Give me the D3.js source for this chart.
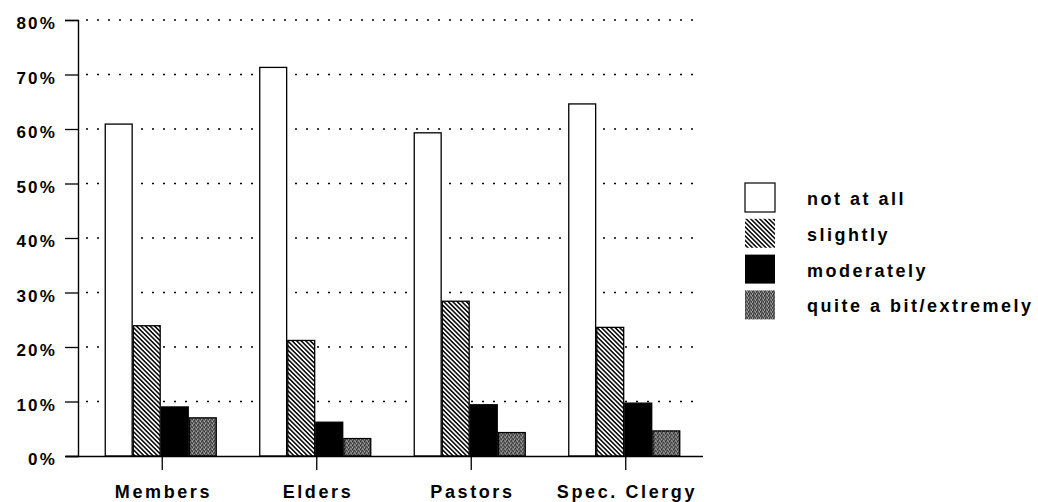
<!DOCTYPE html>
<html>
<head>
<meta charset="utf-8">
<script src="https://cdn.jsdelivr.net/npm/d3@7"></script>
<style>
  body { margin: 0; background: #fff; }
  text { font-family: "Liberation Sans", Arial, sans-serif; font-weight: bold; fill: #000; }
</style>
</head>
<body>
<div id="chart"></div>
<script>
// data
var groups = ["Members", "Elders", "Pastors", "Spec. Clergy"];
var series = ["not at all", "slightly", "moderately", "quite a bit/extremely"];
var notAtAll = [60.9, 71.3, 59.3, 64.6];
var slightly = [23.9, 21.2, 28.4, 23.6];
var moderately = [9.0, 6.2, 9.4, 9.7];
var quiteABit = [7.0, 3.2, 4.3, 4.6];
var yTicks = [0, 10, 20, 30, 40, 50, 60, 70, 80];

var values = [notAtAll, slightly, moderately, quiteABit];

var width = 1038,
    height = 502;

var svg = d3.select("#chart")
    .append("svg")
    .attr("width", width)
    .attr("height", height);

var defs = svg.append("defs");

// diagonal hatch for "slightly"
var hatch = defs.append("pattern")
    .attr("id", "hatch")
    .attr("patternUnits", "userSpaceOnUse")
    .attr("width", 3.2)
    .attr("height", 10)
    .attr("patternTransform", "rotate(-45)");
hatch.append("rect").attr("width", 3.2).attr("height", 10).attr("fill", "#fff");
hatch.append("line")
    .attr("x1", 0.8).attr("y1", 0).attr("x2", 0.8).attr("y2", 10)
    .attr("stroke", "#000").attr("stroke-width", 1.5);

// stipple for "quite a bit/extremely"
var dots = defs.append("pattern")
    .attr("id", "stipple")
    .attr("patternUnits", "userSpaceOnUse")
    .attr("width", 4)
    .attr("height", 4);
dots.append("rect").attr("width", 4).attr("height", 4).attr("fill", "#6e6e6e");
[[0, 0, "#222"], [2, 1, "#bbb"], [1, 2, "#333"], [3, 3, "#ccc"], [3, 1, "#111"], [1, 0, "#999"], [0, 3, "#444"], [2, 3, "#222"]]
    .forEach(function (p) {
        dots.append("rect").attr("x", p[0]).attr("y", p[1])
            .attr("width", 1).attr("height", 1).attr("fill", p[2]);
    });

var fills = ["#fff", "url(#hatch)", "#000", "url(#stipple)"];

var y = d3.scaleLinear()
    .domain([0, 80])
    .range([456, 20]);

var x0 = d3.scaleBand()
    .domain(groups)
    .range([85, 703]);

var x1 = d3.scaleBand()
    .domain(series)
    .range([-57, 54])
    .paddingInner(0.04);

// dotted grid
svg.append("g")
    .selectAll("line")
    .data(yTicks.filter(function (d) { return d > 0; }))
    .enter()
    .append("line")
    .attr("x1", 86)
    .attr("x2", 702)
    .attr("y1", function (d) { return y(d); })
    .attr("y2", function (d) { return y(d); })
    .attr("stroke", "#000")
    .attr("stroke-width", 1.3)
    .attr("stroke-dasharray", "2,9");

// bars
var group = svg.append("g")
    .selectAll("g")
    .data(groups)
    .enter()
    .append("g")
    .attr("transform", function (d) {
        return "translate(" + (x0(d) + x0.bandwidth() / 2) + ",0)";
    });

group.selectAll("rect")
    .data(function (d, i) {
        return series.map(function (s, j) {
            return { series: s, value: values[j][i], fill: fills[j] };
        });
    })
    .enter()
    .append("rect")
    .attr("x", function (d) { return x1(d.series); })
    .attr("width", x1.bandwidth())
    .attr("y", function (d) { return y(d.value); })
    .attr("height", function (d) { return y(0) - y(d.value); })
    .attr("fill", function (d) { return d.fill; })
    .attr("stroke", "#000")
    .attr("stroke-width", 1.3);

// y axis
var yAxis = svg.append("g")
    .attr("transform", "translate(78,0)")
    .call(d3.axisLeft(y)
        .tickValues(yTicks)
        .tickSize(13)
        .tickPadding(8)
        .tickFormat(function (d) { return d + "%"; }));

yAxis.select(".domain").attr("stroke-width", 1.4);
yAxis.selectAll(".tick line").attr("stroke-width", 1.3);
yAxis.selectAll("text")
    .attr("font-family", null)
    .attr("dy", "0.5em")
    .style("font-size", "17px")
    .style("letter-spacing", "2.2px");

// x axis
var xAxis = svg.append("g")
    .attr("transform", "translate(0,456)")
    .call(d3.axisBottom(x0).tickSize(14).tickSizeOuter(0).tickPadding(15));

xAxis.select(".domain")
    .attr("d", "M66,0.5H703")
    .attr("stroke-width", 1.4);
xAxis.selectAll(".tick line").attr("stroke-width", 1.3);
xAxis.selectAll("text")
    .attr("font-family", null)
    .attr("dx", "1.2px")
    .style("font-size", "18px")
    .style("letter-spacing", "2.6px");

// legend
var legend = svg.append("g")
    .attr("transform", "translate(745,183)");

var item = legend.selectAll("g")
    .data(series)
    .enter()
    .append("g")
    .attr("transform", function (d, i) { return "translate(0," + i * 35.8 + ")"; });

item.append("rect")
    .attr("width", 30)
    .attr("height", 29)
    .attr("fill", function (d, i) { return fills[i]; })
    .attr("stroke", function (d, i) { return i == 0 ? "#000" : "none"; })
    .attr("stroke-width", 1.2);

item.append("text")
    .attr("x", 62)
    .attr("y", 22)
    .style("font-size", "18px")
    .style("letter-spacing", "2.5px")
    .text(function (d) { return d; });
</script>
</body>
</html>
